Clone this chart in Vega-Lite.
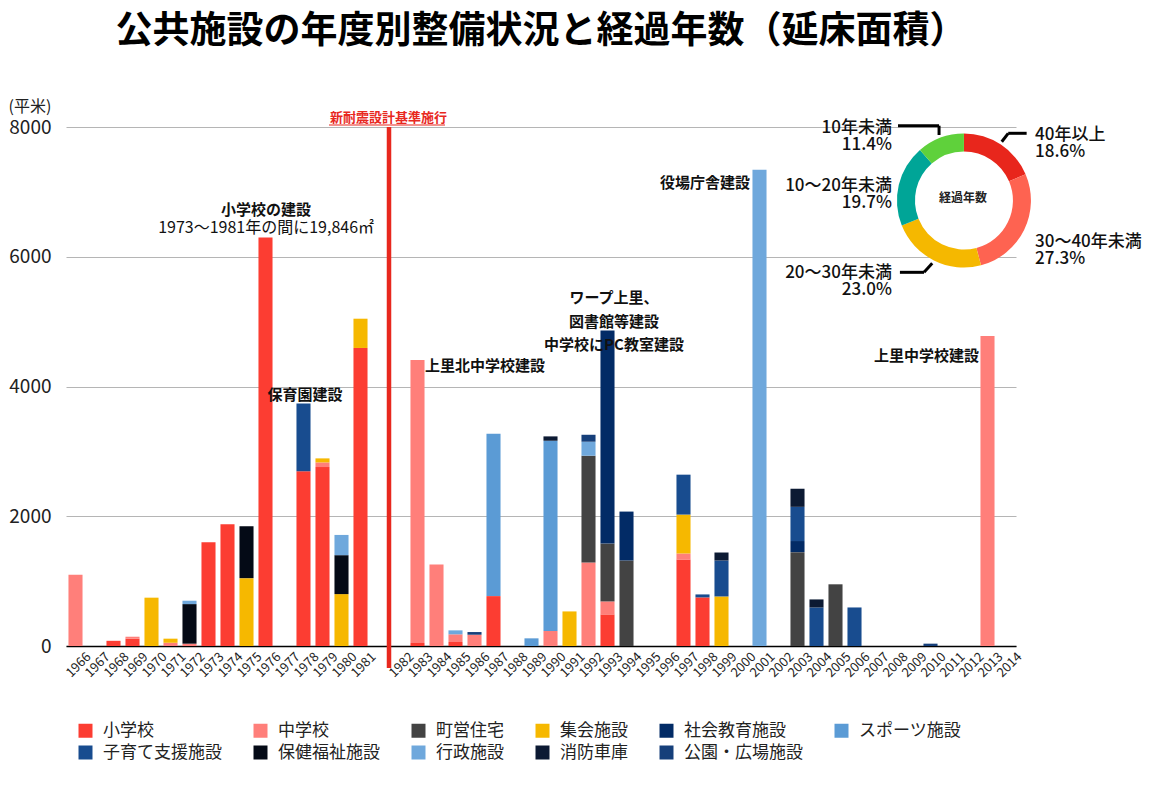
{
  "$schema": "https://vega.github.io/schema/vega-lite/v6.json",
  "width": 950,
  "height": 519,
  "autosize": {"type": "none"},
  "padding": {"left": 66, "top": 127, "right": 133, "bottom": 142},
  "background": "white",
  "title": {"text": "公共施設の年度別整備状況と経過年数（延床面積）", "fontSize": 37, "fontWeight": "bold", "color": "#000", "anchor": "middle", "dx": 0, "offset": 47},
  "config": {"font": "Noto Sans CJK JP", "view": {"stroke": null}},
  "datasets": {
    "types": [
      {"type": "小学校", "k": 0}, {"type": "中学校", "k": 1}, {"type": "町営住宅", "k": 2}, {"type": "集会施設", "k": 3},
      {"type": "社会教育施設", "k": 4}, {"type": "スポーツ施設", "k": 5}, {"type": "子育て支援施設", "k": 6}, {"type": "保健福祉施設", "k": 7},
      {"type": "行政施設", "k": 8}, {"type": "消防車庫", "k": 9}, {"type": "公園・広場施設", "k": 10}
    ],
    "ages": [
      {"label": "40年以上", "k": 0}, {"label": "30〜40年未満", "k": 1}, {"label": "20〜30年未満", "k": 2}, {"label": "10〜20年未満", "k": 3}, {"label": "10年未満", "k": 4}
    ]
  },
  "resolve": {"scale": {"x": "independent", "y": "independent", "color": "independent"}},
  "layer": [
    {
      "data": {"values": [
        {"year": "1966", "type": "中学校", "area": 1100},
        {"year": "1968", "type": "小学校", "area": 80},
        {"year": "1969", "type": "小学校", "area": 113},
        {"year": "1969", "type": "中学校", "area": 30},
        {"year": "1970", "type": "集会施設", "area": 745},
        {"year": "1971", "type": "中学校", "area": 50},
        {"year": "1971", "type": "集会施設", "area": 63},
        {"year": "1972", "type": "中学校", "area": 36},
        {"year": "1972", "type": "保健福祉施設", "area": 610},
        {"year": "1972", "type": "行政施設", "area": 52},
        {"year": "1973", "type": "小学校", "area": 1600},
        {"year": "1974", "type": "小学校", "area": 1876},
        {"year": "1975", "type": "集会施設", "area": 1046},
        {"year": "1975", "type": "保健福祉施設", "area": 800},
        {"year": "1976", "type": "小学校", "area": 6295},
        {"year": "1978", "type": "小学校", "area": 2692},
        {"year": "1978", "type": "子育て支援施設", "area": 1046},
        {"year": "1979", "type": "小学校", "area": 2758},
        {"year": "1979", "type": "中学校", "area": 72},
        {"year": "1979", "type": "集会施設", "area": 62},
        {"year": "1980", "type": "集会施設", "area": 800},
        {"year": "1980", "type": "保健福祉施設", "area": 600},
        {"year": "1980", "type": "行政施設", "area": 312},
        {"year": "1981", "type": "小学校", "area": 4594},
        {"year": "1981", "type": "集会施設", "area": 451},
        {"year": "1983", "type": "小学校", "area": 46},
        {"year": "1983", "type": "中学校", "area": 4364},
        {"year": "1984", "type": "中学校", "area": 1256},
        {"year": "1985", "type": "小学校", "area": 62},
        {"year": "1985", "type": "中学校", "area": 118},
        {"year": "1985", "type": "行政施設", "area": 61},
        {"year": "1986", "type": "中学校", "area": 174},
        {"year": "1986", "type": "公園・広場施設", "area": 41},
        {"year": "1987", "type": "小学校", "area": 769},
        {"year": "1987", "type": "スポーツ施設", "area": 2503},
        {"year": "1989", "type": "スポーツ施設", "area": 118},
        {"year": "1990", "type": "中学校", "area": 231},
        {"year": "1990", "type": "スポーツ施設", "area": 2933},
        {"year": "1990", "type": "消防車庫", "area": 67},
        {"year": "1991", "type": "集会施設", "area": 533},
        {"year": "1992", "type": "中学校", "area": 1287},
        {"year": "1992", "type": "町営住宅", "area": 1646},
        {"year": "1992", "type": "行政施設", "area": 216},
        {"year": "1992", "type": "公園・広場施設", "area": 107},
        {"year": "1993", "type": "小学校", "area": 487},
        {"year": "1993", "type": "中学校", "area": 200},
        {"year": "1993", "type": "町営住宅", "area": 892},
        {"year": "1993", "type": "社会教育施設", "area": 3283},
        {"year": "1994", "type": "町営住宅", "area": 1318},
        {"year": "1994", "type": "社会教育施設", "area": 754},
        {"year": "1997", "type": "小学校", "area": 1333},
        {"year": "1997", "type": "中学校", "area": 93},
        {"year": "1997", "type": "集会施設", "area": 600},
        {"year": "1997", "type": "子育て支援施設", "area": 615},
        {"year": "1998", "type": "小学校", "area": 749},
        {"year": "1998", "type": "子育て支援施設", "area": 46},
        {"year": "1999", "type": "集会施設", "area": 764},
        {"year": "1999", "type": "子育て支援施設", "area": 554},
        {"year": "1999", "type": "消防車庫", "area": 123},
        {"year": "2001", "type": "行政施設", "area": 7340},
        {"year": "2003", "type": "町営住宅", "area": 1447},
        {"year": "2003", "type": "社会教育施設", "area": 171},
        {"year": "2003", "type": "子育て支援施設", "area": 527},
        {"year": "2003", "type": "消防車庫", "area": 279},
        {"year": "2004", "type": "子育て支援施設", "area": 594},
        {"year": "2004", "type": "消防車庫", "area": 124},
        {"year": "2005", "type": "町営住宅", "area": 951},
        {"year": "2006", "type": "子育て支援施設", "area": 594},
        {"year": "2010", "type": "公園・広場施設", "area": 36},
        {"year": "2013", "type": "中学校", "area": 4780}
      ]},
      "transform": [
        {"lookup": "type", "from": {"data": {"name": "types"}, "key": "type", "fields": ["k"]}}
      ],
      "mark": {"type": "bar"},
      "encoding": {
        "x": {"field": "year", "type": "nominal",
          "scale": {"domain": ["1966","1967","1968","1969","1970","1971","1972","1973","1974","1975","1976","1977","1978","1979","1980","1981"," ","1982","1983","1984","1985","1986","1987","1988","1989","1990","1991","1992","1993","1994","1995","1996","1997","1998","1999","2000","2001","2002","2003","2004","2005","2006","2007","2008","2009","2010","2011","2012","2013","2014"], "paddingInner": 0.26, "paddingOuter": 0.13},
          "axis": {"title": null, "labelAngle": -45, "labelFontSize": 13, "labelOffset": 9, "labelPadding": 4, "ticks": false, "domainColor": "#000", "domainWidth": 1.5, "grid": false, "labelColor": "#222"}},
        "y": {"field": "area", "type": "quantitative", "stack": "zero",
          "scale": {"domain": [0, 8000], "nice": false},
          "axis": {"title": "(平米)", "titleAngle": 0, "titleAlign": "left", "titleBaseline": "middle", "titleX": -58, "titleY": -21, "titleFontSize": 16, "titleFontWeight": "normal", "titleColor": "#222", "labelFontSize": 19, "labelColor": "#222", "labelPadding": 15, "ticks": false, "domain": false, "gridColor": "#b5b5b5", "values": [0, 2000, 4000, 6000, 8000], "format": "d"}},
        "order": {"field": "k", "type": "quantitative", "sort": "ascending"},
        "color": {"field": "type", "type": "nominal",
          "scale": {"domain": ["小学校","子育て支援施設","中学校","保健福祉施設","町営住宅","行政施設","集会施設","消防車庫","社会教育施設","公園・広場施設","スポーツ施設"],
                    "range": ["#fc3d32","#184c8f","#ff7f7a","#040a16","#434343","#6fa8dc","#f6b800","#0c1a33","#022b66","#163f7a","#5b9bd5"]},
          "legend": {"orient": "none", "legendX": 11, "legendY": 595, "title": null, "columns": 6, "symbolType": "square", "symbolSize": 196, "symbolStrokeWidth": 0, "labelFontSize": 17, "labelOffset": 9, "columnPadding": 30, "rowPadding": 4, "labelColor": "#222", "labelLimit": 300}}
      }
    },
    {
      "data": {"values": [{}]},
      "layer": [
        {
          "mark": {"type": "rule", "color": "#e8281e", "strokeWidth": 4.5},
          "encoding": {
            "x": {"datum": 17.0, "type": "quantitative", "scale": {"domain": [0, 50], "nice": false, "zero": false}, "axis": null},
            "y": {"datum": 8000, "type": "quantitative", "scale": {"domain": [0, 8000], "nice": false, "zero": false}, "axis": null},
            "y2": {"datum": -339}
          }
        },
        {
          "mark": {"type": "rule", "color": "#e8281e", "strokeWidth": 1.2},
          "encoding": {
            "x": {"datum": 13.84, "type": "quantitative"},
            "x2": {"datum": 19.95},
            "y": {"datum": 8031, "type": "quantitative"}
          }
        },
        {
          "mark": {"type": "text", "text": "新耐震設計基準施行", "fontSize": 13, "fontWeight": "bold", "color": "#e8281e", "align": "center", "baseline": "middle"},
          "encoding": {"x": {"datum": 16.97, "type": "quantitative"}, "y": {"datum": 8139, "type": "quantitative"}}
        },
        {
          "mark": {"type": "text", "text": "小学校の建設", "fontSize": 15, "fontWeight": "bold", "color": "#111", "align": "center", "baseline": "middle"},
          "encoding": {"x": {"datum": 10.53, "type": "quantitative"}, "y": {"datum": 6721, "type": "quantitative"}}
        },
        {
          "mark": {"type": "text", "text": "1973〜1981年の間に19,846㎡", "fontSize": 16, "color": "#111", "align": "center", "baseline": "middle"},
          "encoding": {"x": {"datum": 10.53, "type": "quantitative"}, "y": {"datum": 6443, "type": "quantitative"}}
        },
        {
          "mark": {"type": "text", "text": "保育園建設", "fontSize": 15, "fontWeight": "bold", "color": "#111", "align": "center", "baseline": "middle"},
          "encoding": {"x": {"datum": 12.58, "type": "quantitative"}, "y": {"datum": 3869, "type": "quantitative"}}
        },
        {
          "mark": {"type": "text", "text": "上里北中学校建設", "fontSize": 15, "fontWeight": "bold", "color": "#111", "align": "left", "baseline": "middle"},
          "encoding": {"x": {"datum": 18.89, "type": "quantitative"}, "y": {"datum": 4316, "type": "quantitative"}}
        },
        {
          "mark": {"type": "text", "text": ["ワープ上里、", "図書館等建設", "中学校にPC教室建設"], "lineHeight": 23.5, "fontSize": 15, "fontWeight": "bold", "color": "#111", "align": "center", "baseline": "middle"},
          "encoding": {"x": {"datum": 28.84, "type": "quantitative"}, "y": {"datum": 5357, "type": "quantitative"}}
        },
        {
          "mark": {"type": "text", "text": "役場庁舎建設", "fontSize": 15, "fontWeight": "bold", "color": "#111", "align": "right", "baseline": "middle"},
          "encoding": {"x": {"datum": 36.0, "type": "quantitative"}, "y": {"datum": 7137, "type": "quantitative"}}
        },
        {
          "mark": {"type": "text", "text": "上里中学校建設", "fontSize": 15, "fontWeight": "bold", "color": "#111", "align": "right", "baseline": "middle"},
          "encoding": {"x": {"datum": 48.05, "type": "quantitative"}, "y": {"datum": 4470, "type": "quantitative"}}
        },
        {
          "data": {"values": [
            {"label": "40年以上", "pct": 18.6},
            {"label": "30〜40年未満", "pct": 27.3},
            {"label": "20〜30年未満", "pct": 23.0},
            {"label": "10〜20年未満", "pct": 19.7},
            {"label": "10年未満", "pct": 11.4}
          ]},
          "transform": [
            {"lookup": "label", "from": {"data": {"name": "ages"}, "key": "label", "fields": ["k"]}}
          ],
          "mark": {"type": "arc", "outerRadius": 67, "innerRadius": 49},
          "encoding": {
            "theta": {"field": "pct", "type": "quantitative", "stack": true},
            "order": {"field": "k", "type": "quantitative", "sort": "ascending"},
            "color": {"field": "label", "type": "nominal",
              "scale": {"domain": ["40年以上","30〜40年未満","20〜30年未満","10〜20年未満","10年未満"], "range": ["#e8261c","#fe6351","#f5b800","#00a597","#5fd13b"]},
              "legend": null},
            "x": {"datum": 47.26, "type": "quantitative"},
            "y": {"datum": 6867, "type": "quantitative"}
          }
        },
        {
          "mark": {"type": "text", "text": "経過年数", "fontSize": 12, "fontWeight": "bold", "color": "#222", "align": "center", "baseline": "middle"},
          "encoding": {"x": {"datum": 47.21, "type": "quantitative"}, "y": {"datum": 6913, "type": "quantitative"}}
        },
        {
          "mark": {"type": "text", "text": ["40年以上", "18.6%"], "lineHeight": 17.5, "fontSize": 17, "fontWeight": 500, "color": "#111", "align": "left", "baseline": "middle"},
          "encoding": {"x": {"datum": 51.0, "type": "quantitative"}, "y": {"datum": 7877, "type": "quantitative"}}
        },
        {
          "mark": {"type": "text", "text": ["30〜40年未満", "27.3%"], "lineHeight": 17.5, "fontSize": 17, "fontWeight": 500, "color": "#111", "align": "left", "baseline": "middle"},
          "encoding": {"x": {"datum": 51.0, "type": "quantitative"}, "y": {"datum": 6235, "type": "quantitative"}}
        },
        {
          "mark": {"type": "text", "text": ["10年未満", "11.4%"], "lineHeight": 17.5, "fontSize": 17, "fontWeight": 500, "color": "#111", "align": "right", "baseline": "middle"},
          "encoding": {"x": {"datum": 43.47, "type": "quantitative"}, "y": {"datum": 7985, "type": "quantitative"}}
        },
        {
          "mark": {"type": "text", "text": ["10〜20年未満", "19.7%"], "lineHeight": 17.5, "fontSize": 17, "fontWeight": 500, "color": "#111", "align": "right", "baseline": "middle"},
          "encoding": {"x": {"datum": 43.47, "type": "quantitative"}, "y": {"datum": 7098, "type": "quantitative"}}
        },
        {
          "mark": {"type": "text", "text": ["20〜30年未満", "23.0%"], "lineHeight": 17.5, "fontSize": 17, "fontWeight": 500, "color": "#111", "align": "right", "baseline": "middle"},
          "encoding": {"x": {"datum": 43.47, "type": "quantitative"}, "y": {"datum": 5750, "type": "quantitative"}}
        },
        {
          "mark": {"type": "rule", "color": "#000", "strokeWidth": 3},
          "encoding": {"x": {"datum": 43.79, "type": "quantitative"}, "x2": {"datum": 45.95}, "y": {"datum": 8020, "type": "quantitative"}}
        },
        {
          "mark": {"type": "rule", "color": "#000", "strokeWidth": 3},
          "encoding": {"x": {"datum": 45.95, "type": "quantitative"}, "y": {"datum": 8020, "type": "quantitative"}, "y2": {"datum": 7877}}
        },
        {
          "mark": {"type": "rule", "color": "#000", "strokeWidth": 3},
          "encoding": {"x": {"datum": 49.25, "type": "quantitative"}, "x2": {"datum": 49.59}, "y": {"datum": 7773, "type": "quantitative"}, "y2": {"datum": 7903}}
        },
        {
          "mark": {"type": "rule", "color": "#000", "strokeWidth": 3},
          "encoding": {"x": {"datum": 49.59, "type": "quantitative"}, "x2": {"datum": 50.56}, "y": {"datum": 7903, "type": "quantitative"}}
        },
        {
          "mark": {"type": "rule", "color": "#000", "strokeWidth": 3},
          "encoding": {"x": {"datum": 43.89, "type": "quantitative"}, "x2": {"datum": 45.16}, "y": {"datum": 5760, "type": "quantitative"}}
        },
        {
          "mark": {"type": "rule", "color": "#000", "strokeWidth": 3},
          "encoding": {"x": {"datum": 45.16, "type": "quantitative"}, "x2": {"datum": 45.59}, "y": {"datum": 5760, "type": "quantitative"}, "y2": {"datum": 5899}}
        }
      ]
    }
  ]
}
